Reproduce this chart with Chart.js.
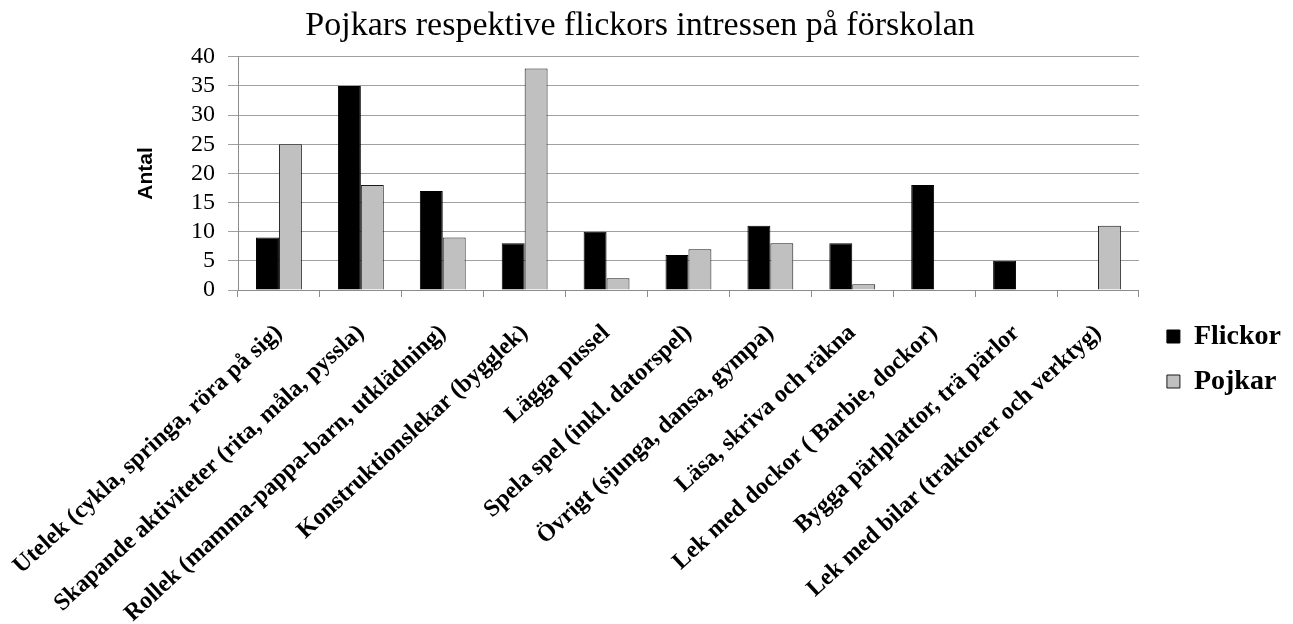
<!DOCTYPE html>
<html>
<head>
<meta charset="utf-8">
<script src="https://cdn.jsdelivr.net/npm/chart.js@4.4.1/dist/chart.umd.min.js"></script>
<style>
  html, body { margin: 0; padding: 0; background: #ffffff; }
  #chart { display: block; }
</style>
</head>
<body>
<canvas id="chart" width="1293" height="624"></canvas>
<script>
// Kategorier och värden
const categories = [
    'Utelek (cykla, springa, röra på sig)',
    'Skapande aktiviteter (rita, måla, pyssla)',
    'Rollek (mamma-pappa-barn, utklädning)',
    'Konstruktionslekar (bygglek)',
    'Lägga pussel',
    'Spela spel (inkl. datorspel)',
    'Övrigt (sjunga, dansa, gympa)',
    'Läsa, skriva och räkna',
    'Lek med dockor ( Barbie, dockor)',
    'Bygga pärlplattor, trä pärlor',
    'Lek med bilar (traktorer och verktyg)'
];
const flickor = [9, 35, 17, 8, 10, 6, 11, 8, 18, 5, 0];
const pojkar = [25, 18, 9, 38, 2, 7, 8, 1, 0, 0, 11];
const seriesNames = ['Flickor', 'Pojkar'];
const yMin = 0;
const yMax = 40;
const yStep = 5;

const serif = "'Liberation Serif', 'Times New Roman', serif";
const sans = "'Liberation Sans', Arial, sans-serif";
const axisGrey = '#8c8c8c';

Chart.defaults.font.family = serif;
Chart.defaults.color = '#000';

// Flyttar legenden lite åt höger och nedåt (som i originalet)
const legendOffset = {
    id: 'legendOffset',
    afterLayout(chart) {
        const lg = chart.legend;
        if (!lg) return;
        lg.left += 11; lg.right += 11;
        lg.top += 47; lg.bottom += 47;
    }
};

const ctx = document.getElementById('chart').getContext('2d');

window.barChart = new Chart(ctx, {
    type: 'bar',
    data: {
        labels: categories,
        datasets: [
            {
                label: seriesNames[0],
                data: flickor,
                backgroundColor: '#000000',
                borderColor: '#000000',
                borderWidth: 1,
                categoryPercentage: 0.56,
                barPercentage: 1.0
            },
            {
                label: seriesNames[1],
                data: pojkar,
                backgroundColor: '#c0c0c0',
                borderColor: '#1a1a1a',
                borderWidth: 1,
                categoryPercentage: 0.56,
                barPercentage: 1.0
            }
        ]
    },
    plugins: [legendOffset],
    options: {
        responsive: false,
        animation: false,
        layout: {
            padding: { left: 0, right: 13, top: 0, bottom: 0 }
        },
        plugins: {
            title: {
                display: true,
                text: 'Pojkars respektive flickors intressen på förskolan',
                color: '#000',
                font: { family: serif, size: 34, weight: 'normal' },
                padding: { top: 6, bottom: 10 }
            },
            legend: {
                position: 'right',
                labels: {
                    color: '#000',
                    boxWidth: 13,
                    boxHeight: 13,
                    padding: 17,
                    font: { family: serif, size: 28, weight: 'bold' }
                }
            },
            tooltip: { enabled: false }
        },
        scales: {
            x: {
                afterFit: (scale) => {
                    scale.height = 334;
                    // etiketterna får gå ut till vänster som i originalet
                    scale.paddingLeft = 0;
                    scale.paddingRight = 0;
                },
                grid: {
                    offset: true,
                    drawOnChartArea: false,
                    color: axisGrey,
                    tickLength: 7
                },
                border: { color: axisGrey, width: 1 },
                ticks: {
                    color: '#000',
                    autoSkip: false,
                    minRotation: 42.5,
                    maxRotation: 42.5,
                    padding: 22,
                    font: { family: serif, size: 24, weight: 'bold' }
                }
            },
            y: {
                min: yMin,
                max: yMax,
                afterFit: (scale) => { scale.width = 238; },
                grid: {
                    color: '#a0a0a0',
                    tickLength: 10
                },
                border: { color: axisGrey, width: 1 },
                ticks: {
                    stepSize: yStep,
                    autoSkip: false,
                    color: '#000',
                    padding: 13,
                    font: { family: serif, size: 24 }
                },
                title: {
                    display: true,
                    text: 'Antal',
                    color: '#000',
                    font: { family: sans, size: 21, weight: 'bold' },
                    padding: { top: 134, bottom: 0 }
                }
            }
        }
    }
});
</script>
</body>
</html>
